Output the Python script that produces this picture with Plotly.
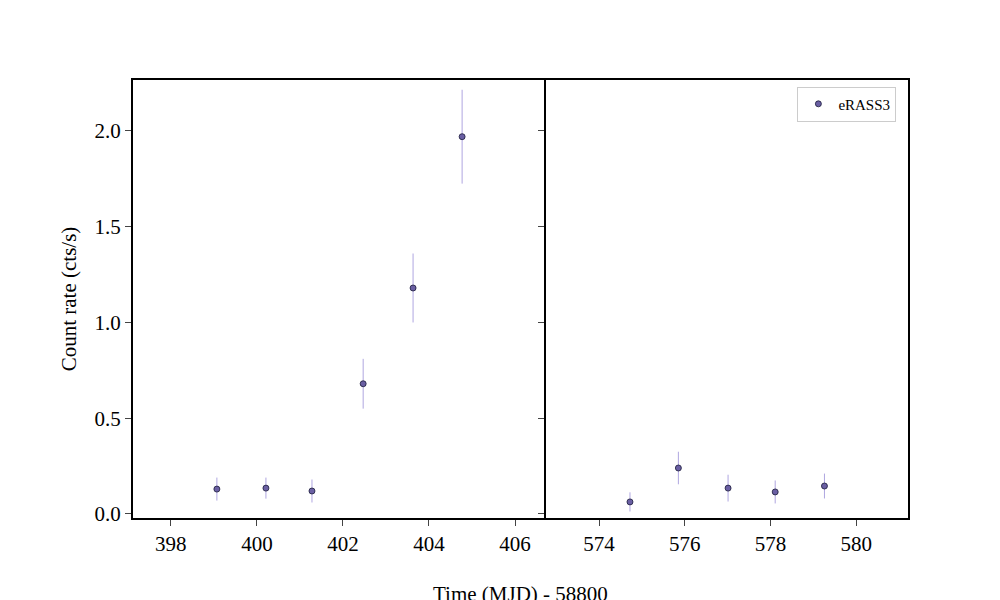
import plotly.graph_objs as go
from plotly.subplots import make_subplots

# eRASS3 light curve, split in two time windows
t_left = [399.07, 400.21, 401.28, 402.47, 403.63, 404.77]
rate_left = [0.13, 0.135, 0.12, 0.68, 1.18, 1.97]
err_left = [0.06, 0.055, 0.06, 0.13, 0.18, 0.245]

t_right = [574.72, 575.85, 577.01, 578.11, 579.26]
rate_right = [0.063, 0.24, 0.135, 0.115, 0.146]
err_right = [0.05, 0.085, 0.07, 0.06, 0.065]

font = dict(family="Liberation Serif, Times New Roman, serif", size=21, color="black")

fig = make_subplots(rows=1, cols=2, shared_yaxes=True, horizontal_spacing=0,
                    column_widths=[413, 362])

marker = dict(color="#6a5fa3", size=6, line=dict(color="#1a1a3a", width=0.8))
errs = dict(type="data", thickness=0.8, width=0, color="#9a8fd8")

fig.add_trace(go.Scatter(x=t_left, y=rate_left, mode="markers", marker=marker,
                         error_y=dict(array=err_left, **errs), name="eRASS3",
                         showlegend=False), row=1, col=1)
fig.add_trace(go.Scatter(x=t_right, y=rate_right, mode="markers", marker=marker,
                         error_y=dict(array=err_right, **errs), name="eRASS3"),
              row=1, col=2)

ax = dict(showline=True, linecolor="black", linewidth=2, mirror=True, ticks="outside",
          ticklen=6, tickwidth=1.2, showgrid=False, zeroline=False, tickfont=font,
          automargin=False)
fig.update_xaxes(**ax)
fig.update_yaxes(**ax)
fig.update_xaxes(range=[397.12, 406.72], dtick=2, row=1, col=1)
fig.update_xaxes(range=[572.76, 581.21], dtick=2, row=1, col=2)
fig.update_yaxes(range=[-0.021, 2.266], dtick=0.5, tickformat=".1f", mirror=False,
                 title=dict(text="Count rate (cts/s)", font=font, standoff=12),
                 row=1, col=1)
fig.update_yaxes(showticklabels=False, row=1, col=2)

fig.add_annotation(text="Time (MJD) - 58800", x=0.5, y=-0.205, xref="paper", yref="paper",
                   showarrow=False, font=font)

fig.update_layout(width=1000, height=600, plot_bgcolor="white", paper_bgcolor="white",
                  font=font, margin=dict(l=125, r=100, t=72, b=90),
                  legend=dict(x=0.985, y=0.985, xanchor="right", yanchor="top",
                              bordercolor="#cccccc", borderwidth=1,
                              font=dict(family=font["family"], size=15)))

fig.write_html("out.html")
